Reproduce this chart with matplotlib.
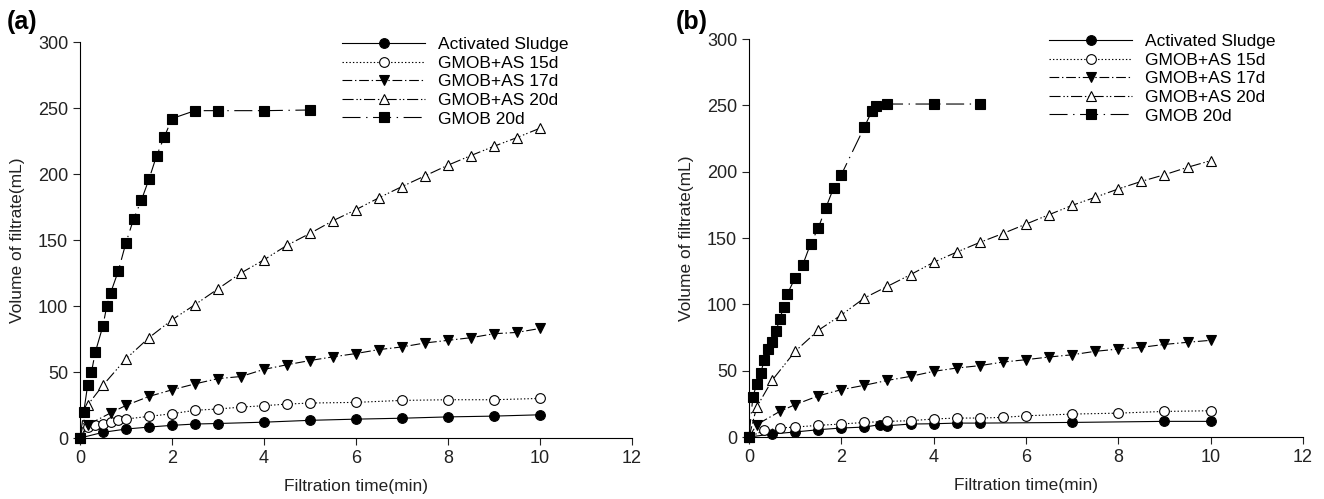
import numpy as np
import matplotlib
matplotlib.use("Agg")
import matplotlib.pyplot as plt

plt.rcParams['font.family'] = ['Liberation Sans', 'DejaVu Sans']
plt.rcParams['lines.scale_dashes'] = False

# ---- panel (a) ----
a_as_t = [0, 0.5, 1, 1.5, 2, 2.5, 3, 4, 5, 6, 7, 8, 9, 10]
a_as_v = [0, 4.3, 6.8, 8.3, 9.6, 10.6, 11, 12, 13.4, 14.3, 15, 16, 16.6, 17.6]

a_15_t = [0, 0.167, 0.333, 0.5, 0.667, 0.833, 1, 1.5, 2, 2.5, 3, 3.5, 4, 4.5, 5, 6, 7, 8, 9, 10]
a_15_v = [0, 8, 10, 10.6, 12, 14, 14.4, 16.4, 18.4, 21, 22, 23.4, 24.5, 25.7, 26.5, 27, 28.5, 29, 29, 30]

a_17_t = [0, 0.167, 0.667, 1, 1.5, 2, 2.5, 3, 3.5, 4, 4.5, 5, 5.5, 6, 6.5, 7, 7.5, 8, 8.5, 9, 9.5, 10]
a_17_v = [0, 10, 19, 24.7, 31.5, 36.5, 41, 45, 46.6, 52, 55.5, 58.7, 61.5, 64, 67, 69, 72, 74, 76, 79, 80, 83]

a_20_t = [0, 0.167, 0.5, 1, 1.5, 2, 2.5, 3, 3.5, 4, 4.5, 5, 5.5, 6, 6.5, 7, 7.5, 8, 8.5, 9, 9.5, 10]
a_20_v = [0, 25, 40, 60, 76, 89.5, 101, 113, 125, 135, 146, 155, 164.6, 173, 182, 190.5, 198.6, 206.7, 214,
          221, 227.6, 234.7]

a_g_t = [0, 0.083, 0.167, 0.25, 0.333, 0.5, 0.583, 0.667, 0.833, 1, 1.167, 1.333, 1.5, 1.667, 1.833, 2,
         2.5, 3, 4, 5]
a_g_v = [0, 20, 40, 50, 65, 85, 100, 110, 126.5, 148, 166, 180, 196, 214, 228, 242, 248, 248, 248, 248.5]

# ---- panel (b) ----
b_as_t = [0, 0.5, 1, 1.5, 2, 2.5, 2.833, 3, 3.5, 4, 4.5, 5, 7, 9, 10]
b_as_v = [0, 2.3, 3.8, 5.5, 6.8, 7.5, 9.3, 8.5, 9.8, 10, 10.5, 10.5, 11, 11.8, 11.8]

b_15_t = [0, 0.333, 0.667, 1, 1.5, 2, 2.5, 3, 3.5, 4, 4.5, 5, 5.5, 6, 7, 8, 9, 10]
b_15_v = [0, 5, 6.8, 7.5, 8.8, 9.8, 11, 11.8, 12.3, 13.6, 14.3, 14.3, 14.8, 16, 17.3, 18, 19.3, 19.8]

b_17_t = [0, 0.167, 0.667, 1, 1.5, 2, 2.5, 3, 3.5, 4, 4.5, 5, 5.5, 6, 6.5, 7, 7.5, 8, 8.5, 9, 9.5, 10]
b_17_v = [0, 9.3, 19.3, 24.4, 31, 35.7, 39, 42.7, 45.7, 49.5, 52, 53.8, 56.5, 58.3, 60.3, 62, 64.6, 66.3,
          67.6, 69.8, 71.4, 72.9]

b_20_t = [0, 0.167, 0.5, 1, 1.5, 2, 2.5, 3, 3.5, 4, 4.5, 5, 5.5, 6, 6.5, 7, 7.5, 8, 8.5, 9, 9.5, 10]
b_20_v = [0, 22.6, 42.7, 64.6, 80.4, 92, 104.8, 113.6, 122.4, 131.7, 139.4, 146.7, 153.4, 160.5, 167.6,
          174.6, 180.7, 187, 192.7, 197.7, 203.3, 208.3]

b_g_t = [0, 0.083, 0.167, 0.25, 0.333, 0.417, 0.5, 0.583, 0.667, 0.75, 0.833, 1, 1.167, 1.333, 1.5,
         1.667, 1.833, 2, 2.5, 2.667, 2.75, 3, 4, 5]
b_g_v = [0, 30, 40, 48, 58, 66, 71.5, 79.6, 89, 98, 108, 120, 130, 145.5, 157.5, 173, 187.7, 197.7,
         233.7, 246, 249.7, 251, 251, 251]

labels = ['Activated Sludge', 'GMOB+AS 15d', 'GMOB+AS 17d', 'GMOB+AS 20d', 'GMOB 20d']
markers = ['o', 'o', 'v', '^', 's']
faces = ['black', 'white', 'black', 'white', 'black']
dashes = [None, (1, 1.5), (7, 2, 1, 2), (8, 2, 1, 1.5, 1, 2), (13, 4, 1, 4)]
msizes = [7, 7, 7, 7.5, 6.5]

panels = [
    ('(a)', [0.0604, 0.1222, 0.4169, 0.7936],
     [(a_as_t, a_as_v), (a_15_t, a_15_v), (a_17_t, a_17_v), (a_20_t, a_20_v), (a_g_t, a_g_v)], 0.4746),
    ('(b)', [0.5657, 0.1242, 0.4184, 0.7976],
     [(b_as_t, b_as_v), (b_15_t, b_15_v), (b_17_t, b_17_v), (b_20_t, b_20_v), (b_g_t, b_g_v)], 0.5415),
]

fig = plt.figure(figsize=(13.24, 4.99), dpi=100)

for tag, rect, series, lx in panels:
    ax = fig.add_axes(rect)
    for i, (t, v) in enumerate(series):
        line, = ax.plot(t, v, color='black', lw=0.8, marker=markers[i], ms=msizes[i],
                        mfc=faces[i], mec='black', mew=0.8, label=labels[i], clip_on=False)
        if dashes[i] is not None:
            line.set_dashes(dashes[i])
    ax.set_xlim(0, 12)
    ax.set_ylim(0, 300)
    ax.set_xticks(range(0, 13, 2))
    ax.set_yticks(range(0, 301, 50))
    for s in ['top', 'right']:
        ax.spines[s].set_visible(False)
    for s in ['left', 'bottom']:
        ax.spines[s].set_linewidth(0.8)
    ax.tick_params(direction='out', length=5, width=0.8, labelsize=13, colors='#222222')
    ax.set_xlabel('Filtration time(min)', fontsize=12.5, labelpad=9, color='#222222')
    ax.set_ylabel('Volume of filtrate(mL)', fontsize=12.5, labelpad=9, color='#222222')
    ax.legend(loc='upper left', bbox_to_anchor=(lx, 1.013), frameon=False, fontsize=12.5,
              handlelength=4.8, handletextpad=0.75, labelspacing=0.2, borderpad=0,
              borderaxespad=0, numpoints=1)
    fig.text(rect[0] - 0.055, 0.955, tag, fontsize=18, fontweight='bold', va='center', ha='left')

fig.savefig('out.png', dpi=100)
